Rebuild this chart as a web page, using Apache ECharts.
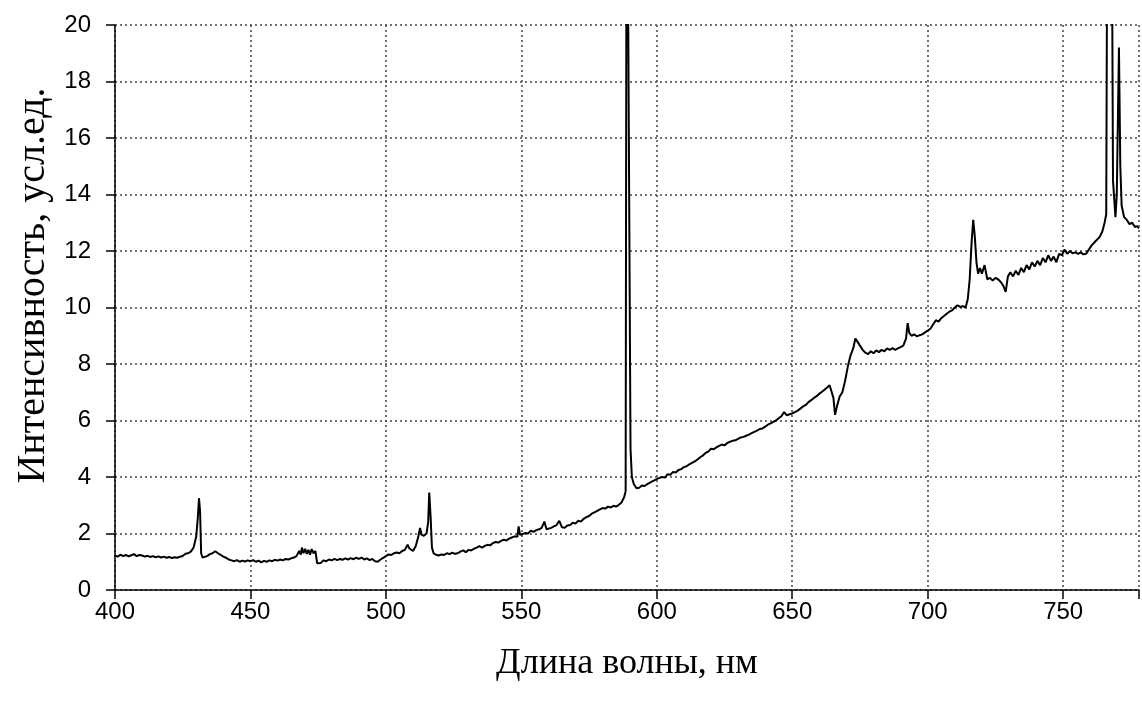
<!DOCTYPE html>
<html>
<head>
<meta charset="utf-8">
<script src="https://cdn.jsdelivr.net/npm/echarts@6/dist/echarts.min.js"></script>
<style>
  html, body { margin: 0; padding: 0; background: #fff; }
  #chart { width: 1142px; height: 704px; }
</style>
</head>
<body>
<div id="chart"></div>
<script>
// ось X: длина волны, нм; ось Y: интенсивность, усл.ед.
var xTicks = [400, 450, 500, 550, 600, 650, 700, 750]
var yTicks = [0, 2, 4, 6, 8, 10, 12, 14, 16, 18, 20]

// участок 400-500 нм
var part1 = [
  [400, 1.22], [401, 1.18], [402, 1.25], [403, 1.2], [404, 1.24], [405, 1.19], [406, 1.23], [407, 1.27],
  [408, 1.2], [409, 1.24], [410, 1.22], [411, 1.18], [412, 1.21], [413, 1.17], [414, 1.2], [415, 1.16],
  [416, 1.19], [417, 1.15], [418, 1.18], [419, 1.14], [420, 1.17], [421, 1.13], [422, 1.16], [423, 1.14],
  [424, 1.18], [425, 1.2], [426, 1.28], [427, 1.3], [428, 1.36], [429, 1.5], [430, 1.9], [430.6, 2.6],
  [431, 3.25], [431.4, 2.8], [431.8, 1.3], [432.3, 1.15], [433, 1.22], [434, 1.2], [435, 1.27], [436, 1.3],
  [437, 1.37], [438, 1.3], [439, 1.24], [440, 1.18], [441, 1.14], [442, 1.08], [443, 1.05], [444, 1.02],
  [445, 1.06], [446, 1.0], [447, 1.04], [448, 1.01], [449, 1.05], [450, 1.02], [451, 1.06], [452, 1.0],
  [453, 1.04], [454, 0.98], [455, 1.03], [456, 1.0], [457, 1.05], [458, 1.02], [459, 1.07], [460, 1.04],
  [461, 1.08], [462, 1.05], [463, 1.1], [464, 1.08], [465, 1.12], [466, 1.15], [467, 1.2], [468, 1.38],
  [468.6, 1.25], [469, 1.5], [469.6, 1.3], [470.2, 1.46], [470.8, 1.28], [471.4, 1.42], [472, 1.25],
  [472.6, 1.45], [473.3, 1.3], [474, 1.38], [474.6, 0.95], [475.2, 1.0], [476, 0.96], [477, 1.05],
  [478, 1.02], [479, 1.08], [480, 1.05], [481, 1.1], [482, 1.06], [483, 1.1], [484, 1.07], [485, 1.12],
  [486, 1.08], [487, 1.13], [488, 1.09], [489, 1.14], [490, 1.1], [491, 1.15], [492, 1.08], [493, 1.12],
  [494, 1.06], [495, 1.1], [496, 1.02], [497, 1.0], [498, 1.08], [499, 1.14]
]

// участок 500-600 нм (линия 589 нм выходит за шкалу)
var part2 = [
  [500, 1.2], [501, 1.26], [502, 1.24], [503, 1.3], [504, 1.33], [505, 1.3], [506, 1.38], [507, 1.42],
  [508, 1.6], [508.6, 1.48], [509.2, 1.42], [510, 1.38], [511, 1.55], [512, 1.9], [512.6, 2.2],
  [513.2, 1.95], [514, 1.92], [515, 2.0], [515.6, 2.4], [516, 3.45], [516.5, 2.6], [517, 1.5],
  [517.6, 1.3], [518.5, 1.25], [519.5, 1.22], [520.5, 1.26], [521.5, 1.24], [522.5, 1.3], [523.5, 1.27],
  [524.5, 1.32], [525.5, 1.28], [526.5, 1.3], [527.5, 1.36], [528.5, 1.4], [529.5, 1.34], [530.5, 1.42],
  [531.5, 1.4], [532.5, 1.46], [533.5, 1.5], [534.5, 1.55], [535.5, 1.5], [536.5, 1.56], [537.5, 1.6],
  [538.5, 1.58], [539.5, 1.66], [540.5, 1.7], [541.5, 1.68], [542.5, 1.74], [543.5, 1.78], [544.5, 1.75],
  [545.5, 1.82], [546.5, 1.86], [547.5, 1.9], [548.5, 1.88], [549, 2.25], [549.5, 1.95], [550.5, 1.98],
  [551.5, 2.02], [552.5, 2.0], [553.5, 2.1], [554.5, 2.06], [555.5, 2.12], [556.5, 2.15], [557.5, 2.2],
  [558.5, 2.42], [559.3, 2.15], [560, 2.1], [561, 2.2], [562, 2.25], [563, 2.3], [564, 2.45], [565, 2.22],
  [566, 2.2], [567, 2.28], [568, 2.3], [569, 2.38], [570, 2.35], [571, 2.45], [572, 2.42], [573, 2.52],
  [574, 2.58], [575, 2.62], [576, 2.7], [577, 2.75], [578, 2.8], [579, 2.85], [580, 2.9], [581, 2.88],
  [582, 2.95], [583, 2.92], [584, 2.98], [585, 2.95], [586, 3.02], [587, 3.1], [588, 3.3], [588.5, 3.5],
  [588.9, 30], [589.6, 30], [590.3, 5], [590.8, 4.0], [591.5, 3.75], [592.5, 3.6], [593.5, 3.62],
  [594.5, 3.7], [595.5, 3.68], [596.5, 3.75], [597.5, 3.8], [598.5, 3.85], [599.5, 3.9]
]

// участок 600-700 нм
var part3 = [
  [600.5, 3.95], [602, 4.0], [603, 3.98], [604, 4.1], [605, 4.08], [606, 4.18], [607, 4.16], [608, 4.25],
  [609, 4.28], [610, 4.35], [611, 4.38], [612, 4.45], [613, 4.5], [614, 4.55], [615, 4.62], [616, 4.7],
  [617, 4.76], [618, 4.85], [619, 4.9], [620, 5.0], [621, 4.98], [622, 5.05], [623, 5.1], [624, 5.15],
  [625, 5.12], [626, 5.2], [627, 5.25], [628, 5.28], [629, 5.3], [630, 5.35], [631, 5.4], [632, 5.42],
  [633, 5.46], [634, 5.5], [635, 5.55], [636, 5.6], [637, 5.64], [638, 5.7], [639, 5.72], [640, 5.78],
  [641, 5.85], [642, 5.9], [643, 5.95], [644, 6.0], [645, 6.08], [646, 6.15], [647, 6.3], [648, 6.18],
  [649, 6.22], [650, 6.25], [651, 6.3], [652, 6.35], [653, 6.42], [654, 6.5], [655, 6.55], [656, 6.65],
  [657, 6.72], [658, 6.8], [659, 6.86], [660, 6.95], [661, 7.02], [662, 7.1], [663, 7.18], [663.8, 7.25],
  [664.5, 7.3], [665.2, 6.8], [665.8, 6.2], [666.5, 6.5], [667.5, 6.85], [668.5, 7.0], [669.5, 7.4],
  [670.5, 7.9], [671.5, 8.3], [672.5, 8.55], [673.3, 8.9], [674, 8.8], [675, 8.65], [676, 8.5], [677, 8.4],
  [678, 8.35], [679, 8.45], [680, 8.38], [681, 8.48], [682, 8.42], [683, 8.5], [684, 8.45], [685, 8.55],
  [686, 8.5], [687, 8.56], [688, 8.5], [689, 8.55], [690, 8.6], [691, 8.65], [692, 8.9], [692.6, 9.45],
  [693.2, 9.1], [694, 9.0], [695, 9.05], [696, 8.98], [697, 9.02], [698, 9.05], [699, 9.12]
]

// участок 700-778 нм (линия 766 нм выходит за шкалу)
var part4 = [
  [700, 9.18], [701, 9.25], [702, 9.4], [703, 9.55], [704, 9.5], [705, 9.62], [706, 9.7], [707, 9.78],
  [708, 9.85], [709, 9.9], [710, 10.0], [711, 10.08], [712, 10.02], [713, 10.05], [714, 10.0],
  [714.8, 10.3], [715.5, 11.0], [716.2, 12.3], [716.8, 13.1], [717.4, 12.5], [718, 11.6], [718.6, 11.2],
  [719.3, 11.4], [720, 11.2], [721, 11.5], [722, 11.0], [723, 11.05], [724, 10.95], [725, 11.05],
  [726, 11.0], [727, 10.9], [728, 10.75], [728.8, 10.55], [729.6, 11.1], [730.5, 11.25], [731.5, 11.1],
  [732.5, 11.3], [733.5, 11.15], [734.5, 11.4], [735.5, 11.25], [736.5, 11.5], [737.5, 11.35],
  [738.5, 11.6], [739.5, 11.45], [740.5, 11.65], [741.5, 11.5], [742.5, 11.75], [743.5, 11.6],
  [744.5, 11.85], [745.5, 11.65], [746.5, 11.8], [747.5, 11.6], [748.5, 11.9], [749.5, 11.85],
  [750.5, 12.05], [751.5, 11.9], [752.5, 12.0], [753.5, 11.92], [754.5, 11.95], [755.5, 11.9],
  [756.5, 11.95], [757.5, 11.88], [758.5, 11.9], [759.5, 12.05], [760.5, 12.2], [761.5, 12.3],
  [762.5, 12.4], [763.5, 12.5], [764.5, 12.7], [765.3, 13.0], [765.9, 13.3], [766.5, 30], [767.7, 30],
  [768.4, 14.5], [769.3, 13.2], [769.8, 14.0], [770.6, 19.2], [771.1, 15.0], [771.6, 13.6], [772.5, 13.2],
  [773.5, 13.1], [774.5, 12.95], [775.5, 13.0], [776.5, 12.85], [777.3, 12.88], [778, 12.8]
]

var spectrum = part1.concat(part2, part3, part4)

var chart = echarts.init(document.getElementById('chart'))
chart.setOption({
  backgroundColor: '#fff',
  animation: false,
  grid: {
    left: 115,
    right: 0,
    top: 25,
    bottom: 114
  },
  xAxis: {
    type: 'value',
    min: 400,
    max: 778,
    interval: 50,
    name: 'Длина волны, нм',
    nameLocation: 'middle',
    nameGap: 56,
    nameTextStyle: {
      fontFamily: 'Liberation Serif',
      fontSize: 36,
      color: '#000'
    },
    axisLine: { lineStyle: { color: '#000', width: 1.5 } },
    axisTick: { length: 9, lineStyle: { color: '#000', width: 1.5 } },
    axisLabel: {
      margin: 10,
      fontFamily: 'Liberation Sans',
      fontSize: 24,
      color: '#000',
      formatter: function (v) {
        return xTicks.indexOf(v) >= 0 ? String(v) : '' // метку на краю 778 не показываем
      }
    },
    splitLine: {
      show: true,
      lineStyle: { type: [2, 3], color: '#444', width: 1.5 }
    }
  },
  yAxis: {
    type: 'value',
    min: yTicks[0],
    max: yTicks[yTicks.length - 1],
    interval: 2,
    name: 'Интенсивность, усл.ед.',
    nameLocation: 'middle',
    nameGap: 50,
    nameTextStyle: {
      fontFamily: 'Liberation Serif',
      fontSize: 40,
      color: '#000',
      padding: [0, 0, 0, 44] // подпись в оригинале чуть выше центра оси
    },
    axisLine: { show: true, lineStyle: { color: '#000', width: 1.5 } },
    axisTick: { show: true, length: 9, lineStyle: { color: '#000', width: 1.5 } },
    axisLabel: {
      margin: 24,
      fontFamily: 'Liberation Sans',
      fontSize: 24,
      color: '#000'
    },
    splitLine: {
      show: true,
      lineStyle: { type: [2, 3], color: '#444', width: 1.5 }
    }
  },
  series: [{
    type: 'line',
    data: spectrum,
    showSymbol: false,
    clip: true,
    lineStyle: { color: '#000', width: 2 }
  }]
})
</script>
</body>
</html>
